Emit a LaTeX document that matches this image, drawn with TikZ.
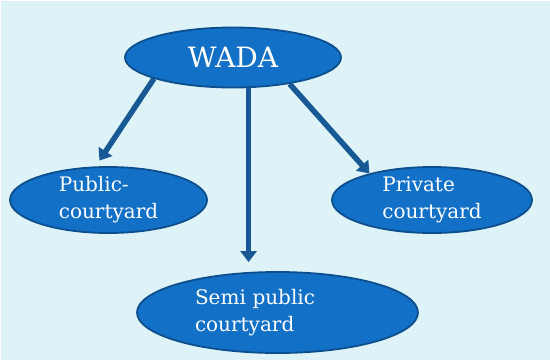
\documentclass[tikz,border=0pt]{standalone}
\usepackage{fontspec}
\setmainfont{DejaVu Serif}
\usetikzlibrary{shapes.geometric,arrows.meta}

\definecolor{bgcyan}{HTML}{DDF3F8}
\definecolor{bubblefill}{HTML}{1270C7}
\definecolor{bubbleedge}{HTML}{0D4F8C}
\definecolor{arrowblue}{HTML}{185895}

\begin{document}
\begin{tikzpicture}[x=1pt, y=-1pt,
    bubble/.style = {ellipse, draw=bubbleedge, fill=bubblefill, line width=1.8pt,
                     text=white, inner sep=0pt, align=left,
                     font=\fontsize{20}{27}\selectfont},
    link/.style = {-{Triangle[width=16pt,length=11pt]}, line width=5.5pt, arrowblue}]
    \useasboundingbox (0,0) rectangle (550,360);
    \fill[white] (0,0) rectangle (550,360);
    \fill[bgcyan] (1,1) rectangle (550,360);

    % top of the tree
    \node[bubble, minimum width=216pt, minimum height=60pt,
          font=\fontsize{28}{34}\selectfont] (wada) at (233, 57.5) {WADA};

    % the three courtyards
    \node[bubble, minimum width=197pt, minimum height=66pt] (public) at (108.5, 200) {Public-\\courtyard};
    \node[bubble, minimum width=200pt, minimum height=66pt] (private) at (432, 200) {Private\\courtyard};
    \node[bubble, minimum width=281pt, minimum height=81pt, text width=165pt] (semi) at (277.5, 312.5) {Semi public\\courtyard};

    \draw[link, shorten >=7pt] (wada.195) -- (public.111);
    \draw[link, shorten >=10pt] (wada.-63) -- (wada.-63 |- semi.127);
    \draw[link] (wada.-25) -- (private.157);
\end{tikzpicture}
\end{document}
